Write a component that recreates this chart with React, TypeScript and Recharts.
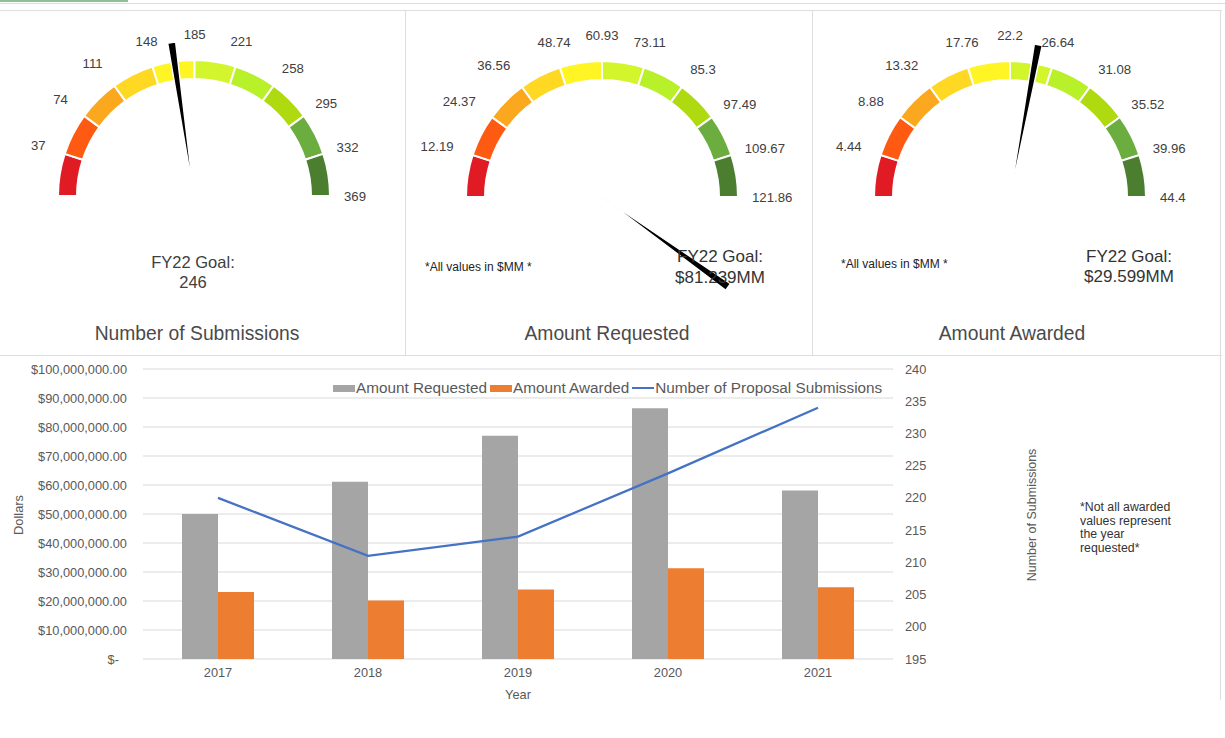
import {
  Bar,
  CartesianGrid,
  Cell,
  ComposedChart,
  Legend,
  Line,
  Pie,
  PieChart,
  XAxis,
  YAxis,
} from "recharts";

const FONT = '"Liberation Sans", Arial, sans-serif';
const TEXT = "#595959";
const DARK = "#404040";
const BORDER = "#dedede";

// gauge tick labels (segment boundaries) and needle readings
const SUBMISSION_TICKS = [37, 74, 111, 148, 185, 221, 258, 295, 332, 369];
const REQUESTED_TICKS = [12.19, 24.37, 36.56, 48.74, 60.93, 73.11, 85.3, 97.49, 109.67, 121.86];
const AWARDED_TICKS = [4.44, 8.88, 13.32, 17.76, 22.2, 26.64, 31.08, 35.52, 39.96, 44.4];
const SUBMISSION_NEEDLE = 167.5;
const REQUESTED_NEEDLE = 145.9;
const AWARDED_NEEDLE = 24.8;

// yearly combo chart
const YEARS = ["2017", "2018", "2019", "2020", "2021"];
const AMOUNT_REQUESTED = [50000000, 61100000, 77000000, 86500000, 58100000];
const AMOUNT_AWARDED = [23100000, 20200000, 24000000, 31300000, 24700000];
const SUBMISSIONS = [220, 211, 214, 223.8, 234];
const DOLLAR_TICKS = [0, 10e6, 20e6, 30e6, 40e6, 50e6, 60e6, 70e6, 80e6, 90e6, 100e6];
const COUNT_TICKS = [195, 200, 205, 210, 215, 220, 225, 230, 235, 240];
const LEGEND_ORDER = ["Amount Requested", "Amount Awarded", "Number of Proposal Submissions"];

const SEGMENT_COLORS = [
  "#e01b24",
  "#ff5a12",
  "#fba81f",
  "#ffd824",
  "#fff424",
  "#d2f52c",
  "#b8f02a",
  "#aeda0f",
  "#6cad3f",
  "#4c7e2f",
];

const RING_OUTER = 136;
const RING_INNER = 117;
const NEEDLE_LEN = 155;
const NEEDLE_DEG = 3;

function makeTickLabel(ticks: number[]) {
  const max = ticks[ticks.length - 1];
  return (props: any) => {
    const { cx, cy, index } = props;
    const deg = 180 - (ticks[index] / max) * 180;
    const rad = (deg * Math.PI) / 180;
    const cos = Math.cos(rad);
    const sin = Math.sin(rad);
    let anchor: "start" | "middle" | "end" = "middle";
    let r = 155;
    if (cos < -0.35) {
      anchor = "end";
      r = 156;
    } else if (cos > 0.35) {
      anchor = "start";
      r = 150;
    }
    const x = cx + r * cos;
    const y = cy - r * sin - 7 * sin;
    return (
      <text
        key={`t-${index}`}
        x={x}
        y={y}
        textAnchor={anchor}
        dominantBaseline="central"
        fill={DARK}
        fontSize={13.2}
      >
        {ticks[index]}
      </text>
    );
  };
}

interface GaugeProps {
  left: number;
  cx: number;
  cy: number;
  ticks: number[];
  needle: number;
}

function GaugeChart({ left, cx, cy, ticks, needle }: GaugeProps) {
  const max = ticks[ticks.length - 1];
  const segments = ticks.map((t, i) => ({
    name: String(t),
    value: t - (i === 0 ? 0 : ticks[i - 1]),
  }));
  const w = (2 * max * NEEDLE_DEG) / 360;
  const needleData = [
    { name: "before", value: needle - w / 2 },
    { name: "needle", value: w },
    { name: "after", value: 2 * max - needle - w / 2 },
  ];

  return (
    <div style={{ position: "absolute", left, top: 0 }}>
      <PieChart width={405} height={300} margin={{ top: 0, right: 0, bottom: 0, left: 0 }}>
        <Pie
          data={segments}
          dataKey="value"
          cx={cx}
          cy={cy}
          startAngle={180}
          endAngle={0}
          innerRadius={RING_INNER}
          outerRadius={RING_OUTER}
          stroke="#fff"
          strokeWidth={2}
          label={makeTickLabel(ticks)}
          labelLine={false}
          isAnimationActive={false}
        >
          {segments.map((s, i) => (
            <Cell key={s.name} fill={SEGMENT_COLORS[i]} />
          ))}
        </Pie>
        <Pie
          data={needleData}
          dataKey="value"
          cx={cx}
          cy={cy}
          startAngle={180}
          endAngle={-180}
          innerRadius={0}
          outerRadius={NEEDLE_LEN}
          isAnimationActive={false}
        >
          <Cell fill="transparent" stroke="none" />
          <Cell fill="#000" stroke="#fff" strokeWidth={1.5} />
          <Cell fill="transparent" stroke="none" />
        </Pie>
      </PieChart>
    </div>
  );
}

function Txt({
  x,
  y,
  size,
  children,
  align = "center",
  color = DARK,
}: {
  x: number;
  y: number;
  size: number;
  children: React.ReactNode;
  align?: "center" | "left";
  color?: string;
}) {
  return (
    <div
      style={{
        position: "absolute",
        left: x,
        top: y,
        transform: align === "center" ? "translate(-50%, -50%)" : "translate(0, -50%)",
        fontSize: size,
        color,
        whiteSpace: "nowrap",
        lineHeight: 1,
      }}
    >
      {children}
    </div>
  );
}

function DollarTick({ x, y, payload }: any) {
  const v = payload.value as number;
  const label =
    v === 0
      ? "$-"
      : "$" +
        v.toLocaleString("en-US", {
          minimumFractionDigits: 2,
          maximumFractionDigits: 2,
        });
  return (
    <text
      x={v === 0 ? x - 8 : x}
      y={y}
      dy={4.5}
      textAnchor="end"
      fill={TEXT}
      fontSize={12.8}
    >
      {label}
    </text>
  );
}

function ChartLegend({ payload }: any) {
  const items = [...(payload ?? [])].sort(
    (a: any, b: any) => LEGEND_ORDER.indexOf(a.value) - LEGEND_ORDER.indexOf(b.value)
  );
  return (
    <div
      style={{
        display: "flex",
        alignItems: "center",
        fontSize: 15.3,
        color: TEXT,
        whiteSpace: "nowrap",
      }}
    >
      {items.map((entry: any) => (
        <span
          key={entry.value}
          style={{ display: "inline-flex", alignItems: "center", marginRight: 3 }}
        >
          <span
            style={{
              display: "inline-block",
              width: 22,
              height: entry.type === "line" ? 2 : 7,
              background: entry.color,
              marginRight: 1,
            }}
          />
          {entry.value}
        </span>
      ))}
    </div>
  );
}

function Rule({ left, top, width, height }: { left: number; top: number; width: number; height: number }) {
  return (
    <div style={{ position: "absolute", left, top, width, height, background: BORDER }} />
  );
}

export default function App() {
  const data = YEARS.map((year, i) => ({
    year,
    requested: AMOUNT_REQUESTED[i],
    awarded: AMOUNT_AWARDED[i],
    submissions: SUBMISSIONS[i],
  }));

  return (
    <div
      style={{
        position: "absolute",
        left: 0,
        top: 0,
        width: 1225,
        height: 738,
        background: "#fff",
        fontFamily: FONT,
        overflow: "hidden",
      }}
    >
      {/* sheet grid remnants */}
      <div style={{ position: "absolute", left: 0, top: 0, width: 128, height: 2, background: "#8fbf98" }} />
      <Rule left={0} top={3} width={1225} height={1} />
      <Rule left={0} top={10} width={1222} height={1} />
      <Rule left={405} top={10} width={1} height={345} />
      <Rule left={812} top={10} width={1} height={345} />
      <Rule left={0} top={355} width={1222} height={1} />
      <Rule left={1220} top={10} width={1} height={690} />

      <GaugeChart left={0} cx={194} cy={196} ticks={SUBMISSION_TICKS} needle={SUBMISSION_NEEDLE} />
      <GaugeChart left={405} cx={197} cy={197} ticks={REQUESTED_TICKS} needle={REQUESTED_NEEDLE} />
      <GaugeChart left={812} cx={198} cy={197} ticks={AWARDED_TICKS} needle={AWARDED_NEEDLE} />

      <Txt x={193} y={262} size={16.5}>FY22 Goal:</Txt>
      <Txt x={193} y={282} size={16.5}>246</Txt>
      <Txt x={197} y={334} size={19.3} color="#4a4a4a">Number of Submissions</Txt>

      <Txt x={425} y={267} size={12} align="left" color="#222">*All values in $MM *</Txt>
      <Txt x={720} y={256} size={17} color="#333">FY22 Goal:</Txt>
      <Txt x={720} y={277} size={17} color="#333">$81.239MM</Txt>
      <Txt x={607} y={334} size={19.3} color="#4a4a4a">Amount Requested</Txt>

      <Txt x={841} y={264} size={12} align="left" color="#222">*All values in $MM *</Txt>
      <Txt x={1129} y={256} size={17} color="#333">FY22 Goal:</Txt>
      <Txt x={1129} y={276} size={17} color="#333">$29.599MM</Txt>
      <Txt x={1012} y={334} size={19.3} color="#4a4a4a">Amount Awarded</Txt>

      {/* yearly combo chart */}
      <div style={{ position: "absolute", left: 0, top: 355 }}>
        <ComposedChart
          width={1225}
          height={350}
          data={data}
          margin={{ top: 14, right: 272, bottom: 6, left: 0 }}
          barGap={0}
        >
          <CartesianGrid yAxisId="left" vertical={false} stroke="#d9d9d9" />
          <XAxis
            dataKey="year"
            tickLine={false}
            axisLine={false}
            tickMargin={3}
            height={40}
            tick={{ fill: TEXT, fontSize: 12.8 }}
            label={{ value: "Year", position: "insideBottom", offset: 0, fill: TEXT, fontSize: 12.8 }}
          />
          <YAxis
            yAxisId="left"
            width={143}
            domain={[0, 100000000]}
            ticks={DOLLAR_TICKS}
            tick={<DollarTick />}
            tickLine={false}
            axisLine={false}
            tickMargin={10}
          />
          <YAxis
            yAxisId="right"
            orientation="right"
            width={60}
            domain={[195, 240]}
            ticks={COUNT_TICKS}
            tickLine={false}
            axisLine={false}
            tickMargin={6}
            tick={{ fill: TEXT, fontSize: 12.8 }}
          />
          <Legend
            layout="horizontal"
            verticalAlign="middle"
            align="center"
            wrapperStyle={{ left: 333, top: 24, width: "auto" }}
            content={<ChartLegend />}
          />
          <Bar
            yAxisId="left"
            dataKey="requested"
            name="Amount Requested"
            fill="#a5a5a5"
            barSize={36}
            isAnimationActive={false}
          />
          <Bar
            yAxisId="left"
            dataKey="awarded"
            name="Amount Awarded"
            fill="#ed7d31"
            barSize={36}
            isAnimationActive={false}
          />
          <Line
            yAxisId="right"
            type="linear"
            dataKey="submissions"
            name="Number of Proposal Submissions"
            stroke="#4472c4"
            strokeWidth={2.25}
            dot={false}
            activeDot={false}
            isAnimationActive={false}
          />
        </ComposedChart>
      </div>

      <div
        style={{
          position: "absolute",
          left: 18,
          top: 515,
          transform: "translate(-50%, -50%) rotate(-90deg)",
          fontSize: 12.9,
          color: TEXT,
          whiteSpace: "nowrap",
        }}
      >
        Dollars
      </div>
      <div
        style={{
          position: "absolute",
          left: 1032,
          top: 515,
          transform: "translate(-50%, -50%) rotate(-90deg)",
          fontSize: 12.5,
          color: TEXT,
          whiteSpace: "nowrap",
        }}
      >
        Number of Submissions
      </div>
      <div
        style={{
          position: "absolute",
          left: 1080,
          top: 501,
          fontSize: 12.3,
          lineHeight: "13.5px",
          color: "#333",
        }}
      >
        *Not all awarded
        <br />
        values represent
        <br />
        the year
        <br />
        requested*
      </div>
    </div>
  );
}
